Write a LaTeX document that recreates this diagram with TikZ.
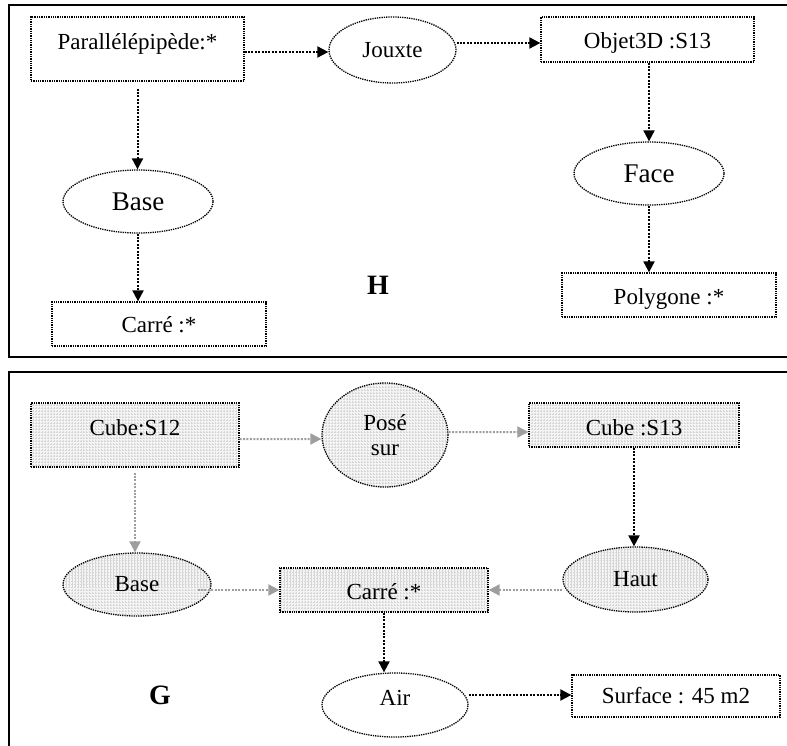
\documentclass[tikz,border=0pt]{standalone}
\usepackage{fontspec}
\setmainfont{Liberation Serif}
\usetikzlibrary{arrows.meta,shapes.geometric,patterns}
\definecolor{linkgray}{gray}{0.62}
\newcommand{\nodetxt}{\fontsize{23bp}{25.5bp}\selectfont}
\newcommand{\bignodetxt}{\fontsize{27bp}{30bp}\selectfont}
\newcommand{\paneltag}{\fontsize{28bp}{30bp}\selectfont\bfseries}
\tikzset{
  frame/.style={line width=2.4bp},
  dotline/.style={draw, line width=1.3bp, dash pattern=on 1.3bp off 1bp},
  conbox/.style={dotline, rectangle, inner sep=0pt, anchor=base, font=\nodetxt},
  oval/.style={dotline, ellipse, inner sep=0pt, font=\nodetxt, align=center},
  shaded/.style={preaction={fill=gray!9}, pattern=grid, pattern color=gray!32},
  link/.style={line width=2bp, dash pattern=on 2bp off 1.4bp,
    -{Triangle[length=11bp,width=11bp]}},
  glink/.style={link, draw=linkgray, -{Triangle[length=11bp,width=11bp,fill=linkgray]}},
}
\begin{document}
\begin{tikzpicture}[x=1bp,y=-1bp]
\useasboundingbox (0,0) rectangle (787,746);
\clip (0,0) rectangle (787,746);

% panel frames
\draw[frame] (820,5) -- (9,5) -- (9,357) -- (820,357);
\draw[frame] (820,372) -- (9,372) -- (9,760);

% ---- panel H ----
\node[conbox, minimum width=213bp, text height=32.5bp, text depth=31.5bp]
  (para) at (137.5,49.5) {Parallélépipède:*};
\node[oval, minimum width=127bp, minimum height=66bp] (joux) at (392.5,50) {Jouxte};
\node[conbox, minimum width=213bp, text height=31.5bp, text depth=13.5bp]
  (obj) at (647.5,48.5) {Objet3D :S13};
\node[oval, font=\bignodetxt, minimum width=150bp, minimum height=63bp] (face) at (649,173.5) {Face};
\node[conbox, minimum width=214bp, text height=31.5bp, text depth=12.5bp]
  (poly) at (669,304.5) {Polygone :*};
\node[oval, font=\bignodetxt, minimum width=150bp, minimum height=63bp] (base) at (138,201.5) {Base};
\node[conbox, minimum width=214bp, text height=30.5bp, text depth=13.5bp]
  (carre) at (159,332.5) {Carré :*};
\node[font=\paneltag] (H) at (378,285) {H};

\draw[link] ([yshift=-3bp]para.east) -- ([yshift=-2bp]joux.west);
\draw[link] ([yshift=7bp]joux.east) -- ([yshift=-3.5bp]obj.west);
\draw[link] (face.north |- obj.south) -- (face.north);
\draw[link] (face.south) -- (face.south |- poly.north);
\draw[link, shorten <=7bp] (para.south) -- (para.south |- base.north);
\draw[link] (base.south) -- (base.south |- carre.north);

% ---- panel G ----
\node[conbox, shaded, minimum width=208bp, text height=32.5bp, text depth=31.5bp]
  (cubeA) at (135,435.5) {Cube:S12};
\node[oval, shaded, minimum width=126bp, minimum height=104bp] (pose) at (385,435) {Posé\\sur};
\node[conbox, shaded, minimum width=210bp, text height=32.5bp, text depth=11.5bp]
  (cubeB) at (634,435.5) {Cube :S13};
\node[oval, shaded, minimum width=145bp, minimum height=65bp] (haut) at (635.5,579.5) {Haut};
\node[conbox, shaded, minimum width=208bp, text height=31.5bp, text depth=12.5bp]
  (carreG) at (384,599.5) {Carré :*};
\node[oval, shaded, minimum width=148bp, minimum height=63bp] (baseG) at (137,584.5) {Base};
\node[oval, minimum width=146bp, minimum height=64bp, text height=8bp, text depth=8bp]
  (air) at (395,705) {Air};
\node[conbox, minimum width=208bp, text height=28.5bp, text depth=13.5bp]
  (surf) at (676,703.5) {Surface : 45 m2};
\node[font=\paneltag] (G) at (160,695) {G};

\draw[glink] ([yshift=-4bp]cubeA.east) -- ([yshift=-4bp]pose.west);
\draw[glink] ([yshift=3bp]pose.east) -- ([yshift=-7bp]cubeB.west);
\draw[link] (cubeB.south) -- (cubeB.south |- haut.north);
\draw[glink, shorten <=5bp] (cubeA.south) -- (cubeA.south |- baseG.north);
\draw[glink] (haut.west |- carreG.east) -- (carreG.east);
\draw[glink, shorten <=-14bp] (baseG.east |- carreG.west) -- (carreG.west);
\draw[link] (carreG.south) -- (carreG.south |- air.north);
\draw[link] ([yshift=10bp]air.east) -- ([yshift=1bp]surf.west);
\end{tikzpicture}
\end{document}
